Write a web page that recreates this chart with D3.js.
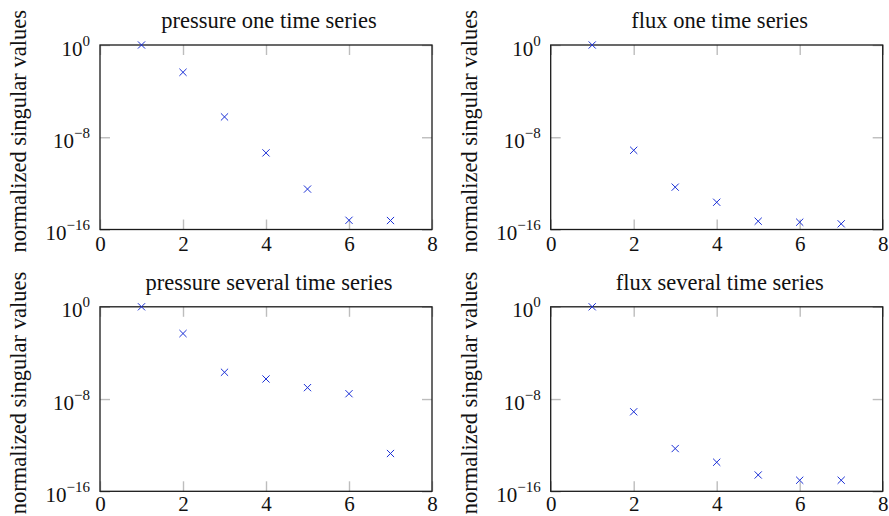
<!DOCTYPE html>
<html>
<head>
<meta charset="utf-8">
<script src="https://cdn.jsdelivr.net/npm/d3@7"></script>
<style>
  html, body { margin: 0; padding: 0; background: #fff; }
</style>
</head>
<body>
<div id="chart"></div>
<script>
// singular value index (x axis)
const ranks = [1, 2, 3, 4, 5, 6, 7];

// normalized singular values, one array per panel
const pressureOne     = [1, 4.3e-3, 5.8e-7, 4.4e-10, 3.2e-13, 6.3e-16, 6.0e-16];
const fluxOne         = [1, 7.4e-10, 4.7e-13, 2.3e-14, 5.2e-16, 4.3e-16, 3.1e-16];
const pressureSeveral = [1, 4.8e-3, 2.1e-6, 5.5e-7, 9.8e-8, 2.9e-8, 1.9e-13];
const fluxSeveral     = [1, 7.9e-10, 5.1e-13, 3.3e-14, 2.6e-15, 9.1e-16, 9.1e-16];

const titles = [
  "pressure one time series",
  "flux one time series",
  "pressure several time series",
  "flux several time series"
];
const seriesList = [pressureOne, fluxOne, pressureSeveral, fluxSeveral];

// tick values
const xTicks = [0, 2, 4, 6, 8];
const yTickExps = [0, -8, -16];
const yLabel = "normalized singular values";

// layout
const W = 889, H = 516;
const plotW = 332, plotH = 184.5;
const lefts = [100, 550.7];
const tops  = [45, 306.8];
const serif = "'Liberation Serif', 'Times New Roman', serif";

const svg = d3.select("#chart").append("svg")
  .attr("width", W)
  .attr("height", H)
  .style("display", "block");

const x = d3.scaleLinear().domain([0, 8]).range([0, plotW]);
const y = d3.scaleLog().domain([1e-16, 1]).range([plotH, 0]);

seriesList.forEach((vals, i) => {
  const col = i % 2, row = Math.floor(i / 2);
  const g = svg.append("g")
    .attr("transform", `translate(${lefts[col]}, ${tops[row]})`);

  // inner gray tick marks, bottom with labels
  const xAxis = g.append("g")
    .attr("transform", `translate(0, ${plotH})`)
    .call(d3.axisBottom(x).tickValues(xTicks).tickSize(-10).tickPadding(row === 1 ? 5 : 7));
  xAxis.select(".domain").remove();
  xAxis.selectAll("line").attr("stroke", "#bdbdbd").attr("stroke-width", 1.4);
  xAxis.selectAll("text")
    .attr("fill", "#111")
    .style("font-family", serif)
    .style("font-size", "21px");

  // top ticks, no labels
  const xTop = g.append("g")
    .call(d3.axisTop(x).tickValues(xTicks).tickSize(-10).tickFormat(""));
  xTop.select(".domain").remove();
  xTop.selectAll("line").attr("stroke", "#bdbdbd").attr("stroke-width", 1.4);

  // y axis left with 10^n labels
  const yVals = yTickExps.map(e => Math.pow(10, e));
  const yAxis = g.append("g")
    .call(d3.axisLeft(y).tickValues(yVals).tickSize(-10).tickPadding(10).tickFormat(""));
  yAxis.select(".domain").remove();
  yAxis.selectAll("line").attr("stroke", "#bdbdbd").attr("stroke-width", 1.4);
  yAxis.selectAll(".tick text")
    .attr("fill", "#111")
    .attr("dy", "10")
    .style("font-family", serif)
    .style("font-size", "21px")
    .each(function(d) {
      const t = d3.select(this);
      const e = Math.round(Math.log10(d));
      t.append("tspan").text("10");
      t.append("tspan")
        .attr("dy", "-10")
        .style("font-size", "15px")
        .text(e < 0 ? "\u2212" + (-e) : String(e));
    });

  const yRight = g.append("g")
    .attr("transform", `translate(${plotW}, 0)`)
    .call(d3.axisRight(y).tickValues(yVals).tickSize(-10).tickFormat(""));
  yRight.select(".domain").remove();
  yRight.selectAll("line").attr("stroke", "#bdbdbd").attr("stroke-width", 1.4);

  // frame
  g.append("rect")
    .attr("width", plotW)
    .attr("height", plotH)
    .attr("fill", "none")
    .attr("stroke", "#1a1a1a")
    .attr("stroke-width", 1.3);

  // title
  g.append("text")
    .attr("x", plotW / 2 + 3)
    .attr("y", -17)
    .attr("text-anchor", "middle")
    .attr("fill", "#111")
    .style("font-family", serif)
    .style("font-size", "22.5px")
    .text(titles[i]);

  // y axis label
  g.append("text")
    .attr("text-anchor", "middle")
    .attr("transform", `translate(-74, ${plotH / 2 - 6}) rotate(-90)`)
    .attr("fill", "#111")
    .style("font-family", serif)
    .style("font-size", "22.5px")
    .text(yLabel);

  // x markers
  const pts = ranks.map((r, k) => ({ r, v: vals[k] }));
  const s = 3.6;
  g.selectAll(".mark")
    .data(pts)
    .enter()
    .append("path")
    .attr("class", "mark")
    .attr("transform", d => `translate(${x(d.r)}, ${y(d.v)})`)
    .attr("d", `M${-s},${-s}L${s},${s}M${-s},${s}L${s},${-s}`)
    .attr("stroke", "#1a2fd6")
    .attr("stroke-width", 1)
    .attr("fill", "none");
});
</script>
</body>
</html>
